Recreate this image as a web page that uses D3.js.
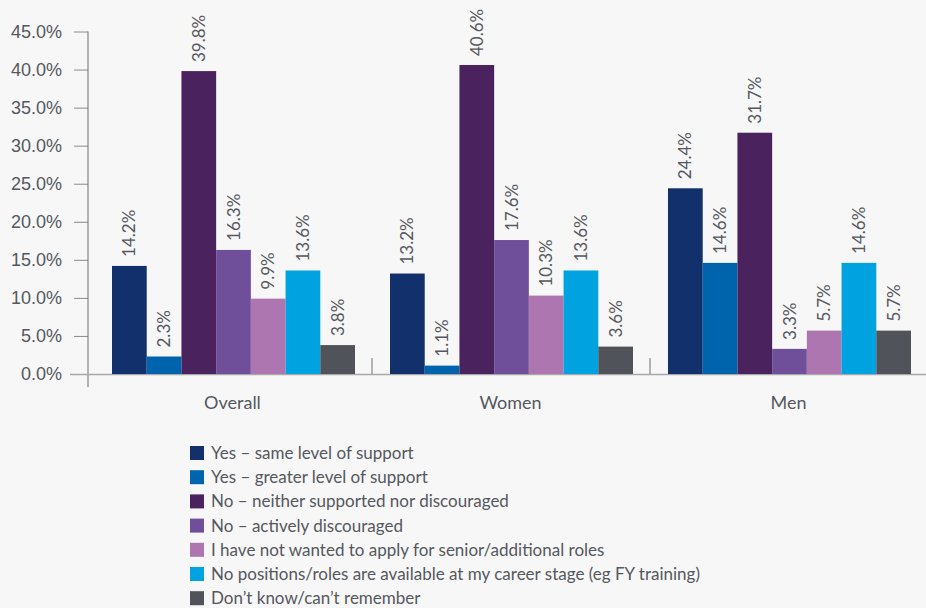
<!DOCTYPE html>
<html>
<head>
<meta charset="utf-8">
<script src="https://cdn.jsdelivr.net/npm/d3@7"></script>
<style>
  body { margin: 0; background: #f7f7f7; }
  svg { display: block; font-family: Lato, "Noto Sans", sans-serif; }
</style>
</head>
<body>
<div id="chart-area"></div>
<script>
// Data
var groups = ["Overall", "Women", "Men"];
var series = [
  "Yes \u2013 same level of support",
  "Yes \u2013 greater level of support",
  "No \u2013 neither supported nor discouraged",
  "No \u2013 actively discouraged",
  "I have not wanted to apply for senior/additional roles",
  "No positions/roles are available at my career stage (eg FY training)",
  "Don\u2019t know/can\u2019t remember"
];
var overallValues = [14.2, 2.3, 39.8, 16.3, 9.9, 13.6, 3.8];
var womenValues = [13.2, 1.1, 40.6, 17.6, 10.3, 13.6, 3.6];
var menValues = [24.4, 14.6, 31.7, 3.3, 5.7, 14.6, 5.7];
var yTicks = [0, 5, 10, 15, 20, 25, 30, 35, 40, 45];
var colors = ["#12306b", "#0064ad", "#4a235e", "#6f4e9a", "#ad76b0", "#00a3e0", "#50535a"];

var values = [overallValues, womenValues, menValues];

var width = 926, height = 608;
var textColor = "#55585e";

var svg = d3.select("#chart-area").append("svg")
    .attr("width", width)
    .attr("height", height);

// Scales
var x0 = d3.scaleBand()
    .domain(groups)
    .range([94.5, 928.5])
    .paddingInner(0)
    .paddingOuter(0);

var x1 = d3.scaleBand()
    .domain(d3.range(series.length))
    .range([17.5, x0.bandwidth() - 17.5]);

var y = d3.scaleLinear()
    .domain([0, 45])
    .range([374, 31.5]);

// Y axis
var yAxis = svg.append("g")
    .attr("transform", "translate(88,0)")
    .call(d3.axisLeft(y)
      .tickValues(yTicks)
      .tickSize(14)
      .tickPadding(12)
      .tickFormat(function(d) { return d.toFixed(1) + "%"; }));

yAxis.select(".domain").remove();
yAxis.selectAll(".tick line").attr("stroke", "#8a8c90");
yAxis.selectAll(".tick text")
    .attr("fill", textColor)
    .style("font-size", "18px");

svg.append("line")
    .attr("x1", 88).attr("x2", 88)
    .attr("y1", y(45)).attr("y2", 387)
    .attr("stroke", "#6b6e73")
    .attr("stroke-width", 1);

// baseline
svg.append("line")
    .attr("x1", 70).attr("x2", width)
    .attr("y1", y(0) + 0.5).attr("y2", y(0) + 0.5)
    .attr("stroke", "#a7a9ac")
    .attr("stroke-width", 1.5);

// group separators
svg.selectAll(".sep")
    .data(groups.slice(1))
    .enter().append("line")
    .attr("class", "sep")
    .attr("x1", function(d) { return x0(d) - 0.5; })
    .attr("x2", function(d) { return x0(d) - 0.5; })
    .attr("y1", 358)
    .attr("y2", y(0))
    .attr("stroke", "#6b6e73")
    .attr("stroke-width", 1);

// Bars
var group = svg.selectAll(".group")
    .data(groups)
    .enter().append("g")
    .attr("class", "group")
    .attr("transform", function(d) { return "translate(" + x0(d) + ",0)"; });

group.selectAll("rect")
    .data(function(d, i) { return values[i]; })
    .enter().append("rect")
    .attr("x", function(d, i) { return x1(i); })
    .attr("y", function(d) { return y(d); })
    .attr("width", x1.bandwidth())
    .attr("height", function(d) { return y(0) - y(d); })
    .attr("fill", function(d, i) { return colors[i]; });

group.selectAll(".val")
    .data(function(d, i) { return values[i]; })
    .enter().append("text")
    .attr("class", "val")
    .attr("transform", function(d, i) {
      return "translate(" + (x1(i) + x1.bandwidth() / 2 + 6) + "," + (y(d) - 9) + ") rotate(-90)";
    })
    .attr("fill", textColor)
    .style("font-size", "17px")
    .text(function(d) { return d.toFixed(1) + "%"; });

// Category labels
svg.selectAll(".cat")
    .data(groups)
    .enter().append("text")
    .attr("class", "cat")
    .attr("x", function(d) { return x0(d) + x0.bandwidth() / 2 - 1; })
    .attr("y", 409)
    .attr("text-anchor", "middle")
    .attr("fill", textColor)
    .style("font-size", "18px")
    .text(function(d) { return d; });

// Legend
var legend = svg.selectAll(".legend")
    .data(series)
    .enter().append("g")
    .attr("class", "legend")
    .attr("transform", function(d, i) { return "translate(190," + (453 + i * 24.2) + ")"; });

legend.append("rect")
    .attr("x", 0)
    .attr("y", -7)
    .attr("width", 14)
    .attr("height", 14)
    .attr("fill", function(d, i) { return colors[i]; });

legend.append("text")
    .attr("x", 21)
    .attr("y", 6)
    .attr("fill", textColor)
    .style("font-size", "17px")
    .text(function(d) { return d; });
</script>
</body>
</html>
